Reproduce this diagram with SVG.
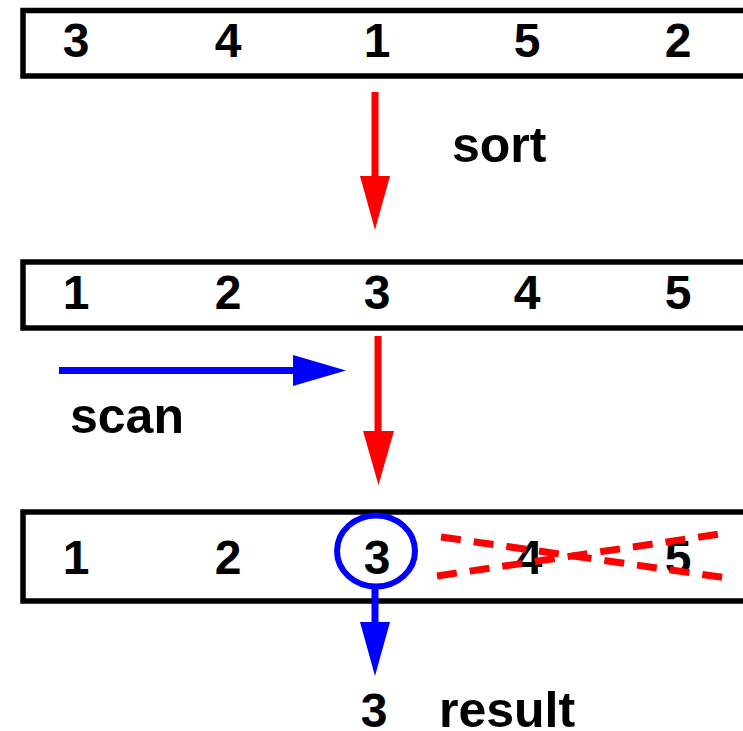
<svg xmlns="http://www.w3.org/2000/svg" width="743" height="731" viewBox="0 0 743 731">
  <style>
    .box { fill: #fff; stroke: #000; stroke-width: 5.5; }
    .num { font-family: "Liberation Sans", Arial, sans-serif; font-weight: bold; font-size: 48px; fill: #000; text-anchor: middle; }
    .lbl { font-family: "Liberation Sans", Arial, sans-serif; font-weight: bold; font-size: 50px; fill: #000; }
    .red { stroke: #ff0000; stroke-width: 7; fill: none; }
    .blue { stroke: #0000ff; stroke-width: 7; fill: none; }
  </style>
  <rect x="0" y="0" width="743" height="731" fill="#fff"/>

  <g id="array-unsorted">
    <rect class="box" x="23" y="10.5" width="740" height="65.5"/>
    <text class="num" x="76" y="57">3</text>
    <text class="num" x="228" y="57">4</text>
    <text class="num" x="377" y="57">1</text>
    <text class="num" x="527" y="57">5</text>
    <text class="num" x="678" y="57">2</text>
  </g>

  <g id="array-sorted">
    <rect class="box" x="23" y="262" width="740" height="66"/>
    <text class="num" x="76" y="309">1</text>
    <text class="num" x="228" y="309">2</text>
    <text class="num" x="377" y="309">3</text>
    <text class="num" x="527" y="309">4</text>
    <text class="num" x="678" y="309">5</text>
  </g>

  <g id="array-result">
    <rect class="box" x="23" y="512" width="740" height="89"/>
    <text class="num" x="76" y="574">1</text>
    <text class="num" x="228" y="574">2</text>
    <text class="num" x="377" y="574">3</text>
    <text class="num" x="529" y="574">4</text>
    <text class="num" x="678" y="574">5</text>
    <ellipse cx="376" cy="551" rx="39" ry="35.5" fill="none" stroke="#0000ff" stroke-width="6"/>
  </g>

  <g id="labels">
    <text class="lbl" x="452" y="162">sort</text>
    <text class="lbl" x="70" y="433">scan</text>
    <text class="num" x="374" y="727">3</text>
    <text class="lbl" x="439" y="727">result</text>
  </g>

  <g id="connectors">
    <!-- sort arrow -->
    <line class="red" x1="375" y1="92" x2="375" y2="178"/>
    <polygon points="360,176 390,176 375,230" fill="#ff0000"/>
    <!-- down arrow from sorted -->
    <line class="red" x1="378" y1="336" x2="378" y2="433"/>
    <polygon points="363,431 394,431 378.5,485" fill="#ff0000"/>
    <!-- scan arrow -->
    <line class="blue" x1="59" y1="370.5" x2="295" y2="370.5"/>
    <polygon points="293,355 293,386 346,370.5" fill="#0000ff"/>
    <!-- result arrow -->
    <line class="blue" x1="375" y1="589" x2="375" y2="624"/>
    <polygon points="360,622 390,622 375,676" fill="#0000ff"/>
    <!-- crossed out -->
    <line class="red" x1="441" y1="537" x2="727" y2="578" stroke-width="6.5" stroke-dasharray="20 13"/>
    <line class="red" x1="437" y1="576" x2="720" y2="534" stroke-width="6.5" stroke-dasharray="20 13"/>
  </g>
</svg>
